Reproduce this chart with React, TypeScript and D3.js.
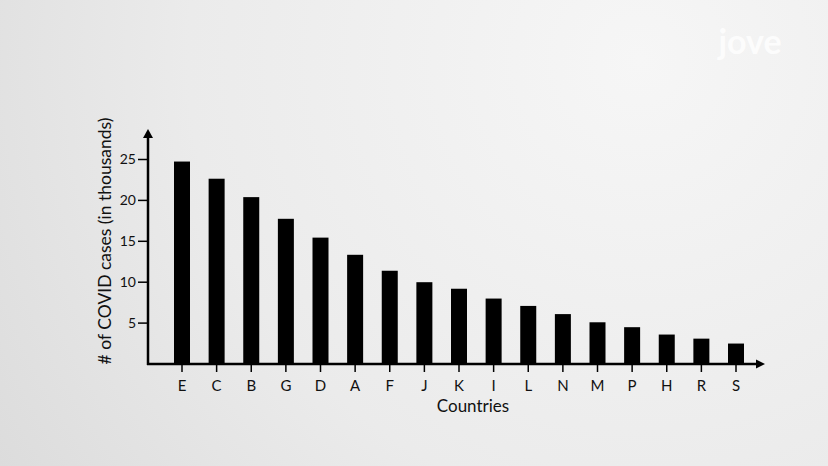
import React from "react";
import * as d3 from "d3";

const countries = ["E","C","B","G","D","A","F","J","K","I","L","N","M","P","H","R","S"];
const cases = [24.75,22.65,20.4,17.75,15.45,13.35,11.4,10.0,9.2,8.0,7.1,6.1,5.1,4.5,3.6,3.1,2.5];
const yTicks = [5,10,15,20,25];

const W = 828, H = 466;
const x0 = 148, y0 = 364;

export default function App() {
  const x = d3.scalePoint<string>().domain(countries).range([182, 736]);
  const y = d3.scaleLinear().domain([0, 25]).range([y0, 159.5]);
  const bw = 16;
  const font = "Lato, 'Open Sans', sans-serif";
  return (
    <svg width={W} height={H} style={{ position: "absolute", left: 0, top: 0 }}>
      <defs>
        <radialGradient id="bg" cx="640" cy="60" r="820" gradientUnits="userSpaceOnUse">
          <stop offset="0" stopColor="#f6f6f6" />
          <stop offset="0.55" stopColor="#ebebeb" />
          <stop offset="1" stopColor="#d9d9d9" />
        </radialGradient>
      </defs>
      <rect width={W} height={H} fill="url(#bg)" />
      <text x={750} y={54} fontFamily={font} fontSize={34} fontWeight={700} fill="#ffffff" opacity={0.8} textAnchor="middle">jove</text>
      {countries.map((c, i) => (
        <rect key={c} x={(x(c) as number) - bw / 2} y={y(cases[i])} width={bw} height={y0 - y(cases[i])} fill="#000" />
      ))}
      {/* y axis */}
      <line x1={x0} x2={x0} y1={y0 + 1} y2={136} stroke="#000" strokeWidth={2.5} />
      <path d={`M${x0 - 5},${138} L${x0},${129} L${x0 + 5},${138} Z`} fill="#000" />
      {yTicks.map(t => (
        <g key={t}>
          <line x1={x0 - 10} x2={x0} y1={y(t)} y2={y(t)} stroke="#000" strokeWidth={1.5} />
          <text x={x0 - 12} y={y(t)} dy="0.35em" textAnchor="end" fontFamily={font} fontSize={14} fill="#111">{t}</text>
        </g>
      ))}
      {/* x axis */}
      <line x1={x0 - 1} x2={758} y1={y0} y2={y0} stroke="#000" strokeWidth={2.5} />
      <path d={`M${756},${y0 - 4.5} L${765},${y0} L${756},${y0 + 4.5} Z`} fill="#000" />
      {countries.map(c => (
        <g key={c}>
          <line x1={x(c)} x2={x(c)} y1={y0} y2={y0 + 8} stroke="#000" strokeWidth={1.5} />
          <text x={x(c)} y={391} textAnchor="middle" fontFamily={font} fontSize={15} fill="#111">{c}</text>
        </g>
      ))}
      <text x={473} y={412} textAnchor="middle" fontFamily={font} fontSize={17} fill="#111">Countries</text>
      <text transform={`translate(111,241) rotate(-90)`} textAnchor="middle" fontFamily={font} fontSize={17.5} fill="#111"># of COVID cases (in thousands)</text>
    </svg>
  );
}
